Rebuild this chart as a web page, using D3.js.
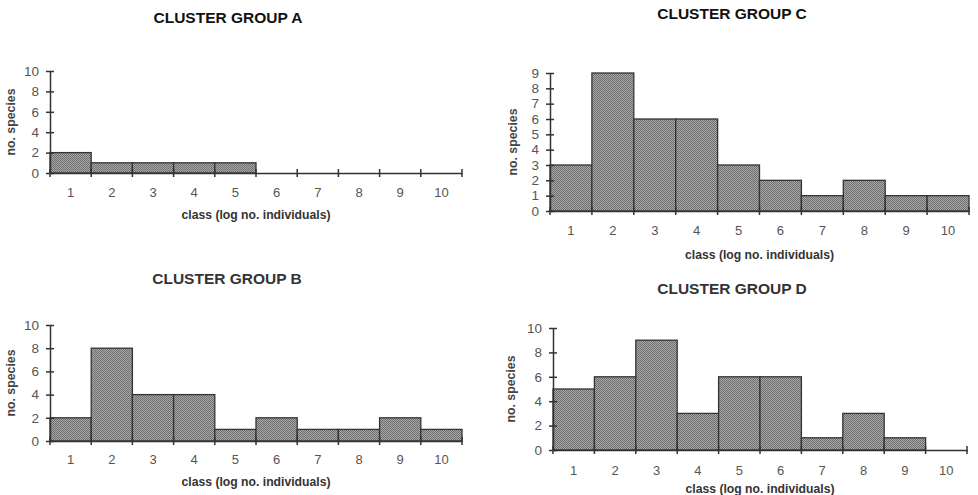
<!DOCTYPE html>
<html><head><meta charset="utf-8">
<script src="https://cdn.jsdelivr.net/npm/d3@7/dist/d3.min.js"></script>
<style>
html,body{margin:0;padding:0;background:#fff;}
svg{display:block;font-family:"Liberation Sans",Arial,sans-serif;}
</style></head>
<body><svg id="c" width="978" height="495"></svg>
<script>
const classes = [1,2,3,4,5,6,7,8,9,10];
const groupA = [2,1,1,1,1,0,0,0,0,0];
const groupB = [2,8,4,4,1,2,1,1,2,1];
const groupC = [3,9,6,6,3,2,1,2,1,1];
const groupD = [5,6,9,3,6,6,1,3,1,0];
const ticksEven = [0,2,4,6,8,10];
const ticksC = [0,1,2,3,4,5,6,7,8,9];
const titles = ["CLUSTER GROUP A","CLUSTER GROUP B","CLUSTER GROUP C","CLUSTER GROUP D"];
const xLabel = "class (log no. individuals)";
const yLabel = "no. species";

const svg = d3.select("#c");
const defs = svg.append("defs");
const pat = defs.append("pattern").attr("id","stip").attr("width",2).attr("height",2).attr("patternUnits","userSpaceOnUse");
pat.append("rect").attr("width",2).attr("height",2).attr("fill","#a8a8a8");
pat.append("rect").attr("width",1).attr("height",1).attr("fill","#6e6e6e");
pat.append("rect").attr("x",1).attr("y",1).attr("width",1).attr("height",1).attr("fill","#6e6e6e");

const panels = [
  {title:titles[0], data:groupA, x0:50, x1:462, y0:173, yTop:71, yMax:10, ticks:ticksEven, titleX:228, titleY:23, tickY:197, labelY:219, yLabX:15, tcol:"#111"},
  {title:titles[1], data:groupB, x0:50, x1:462, y0:441, yTop:325, yMax:10, ticks:ticksEven, titleX:227, titleY:284, tickY:464, labelY:486, yLabX:15, tcol:"#333"},
  {title:titles[2], data:groupC, x0:550, x1:969, y0:211, yTop:73, yMax:9, ticks:ticksC, titleX:732, titleY:19, tickY:235, labelY:259, yLabX:517, tcol:"#111"},
  {title:titles[3], data:groupD, x0:553, x1:967, y0:450, yTop:328, yMax:10, ticks:ticksEven, titleX:732, titleY:294, tickY:475, labelY:493, yLabX:515, tcol:"#333"}
];

panels.forEach(p => {
  const g = svg.append("g");
  const x = d3.scaleBand().domain(classes).range([p.x0, p.x1]).padding(0);
  const y = d3.scaleLinear().domain([0, p.yMax]).range([p.y0, p.yTop]);

  g.append("text").attr("x",p.titleX).attr("y",p.titleY).attr("text-anchor","middle")
    .attr("font-weight","bold").attr("font-size",15.5).attr("fill",p.tcol).text(p.title);

  g.selectAll("rect.bar").data(classes.map((c,i)=>({c, v:p.data[i]})).filter(d=>d.v>0))
    .enter().append("rect").attr("class","bar")
    .attr("x",d=>x(d.c)).attr("width",x.bandwidth())
    .attr("y",d=>y(d.v)).attr("height",d=>y(0)-y(d.v))
    .attr("fill","url(#stip)").attr("stroke","#333").attr("stroke-width",1.3);

  // y axis
  const ya = d3.axisLeft(y).tickValues(p.ticks).tickSize(0).tickPadding(11).tickFormat(d3.format("d"));
  const yg = g.append("g").attr("transform",`translate(${p.x0},0)`).call(ya);
  yg.attr("font-size",null);
  yg.select(".domain").attr("stroke","#333").attr("stroke-width",1.5);
  yg.selectAll(".tick line").attr("x1",-4).attr("x2",4).attr("stroke","#333").attr("stroke-width",1.5);
  yg.selectAll(".tick text").style("font-size","13.5px").attr("fill","#555").attr("font-family","Liberation Sans, Arial, sans-serif");

  // x axis
  const xa = d3.axisBottom(x).tickSize(0).tickPadding(0);
  const xg = g.append("g").attr("transform",`translate(0,${p.y0})`).call(xa);
  xg.attr("font-size",null);
  xg.select(".domain").attr("stroke","#333").attr("stroke-width",1.5);
  xg.selectAll(".tick line").remove();
  xg.selectAll(".tick text").attr("y",p.tickY-p.y0).attr("dy","0").style("font-size","13px").attr("fill","#555")
    .attr("font-family","Liberation Sans, Arial, sans-serif");
  // boundary ticks
  const bounds = classes.map(c=>x(c)).concat([p.x1]);
  xg.selectAll("line.bt").data(bounds).enter().append("line").attr("class","bt")
    .attr("x1",d=>d).attr("x2",d=>d).attr("y1",-4).attr("y2",4).attr("stroke","#333").attr("stroke-width",1.5);

  g.append("text").attr("x",(p.x0+p.x1)/2).attr("y",p.labelY).attr("text-anchor","middle")
    .attr("font-weight","bold").attr("font-size",12.2).attr("fill","#333").text(xLabel);

  g.append("text").attr("transform",`translate(${p.yLabX},${(p.y0+p.yTop)/2}) rotate(-90)`)
    .attr("text-anchor","middle").attr("font-weight","bold").attr("font-size",12.3).attr("fill","#444").text(yLabel);
});
</script></body></html>
